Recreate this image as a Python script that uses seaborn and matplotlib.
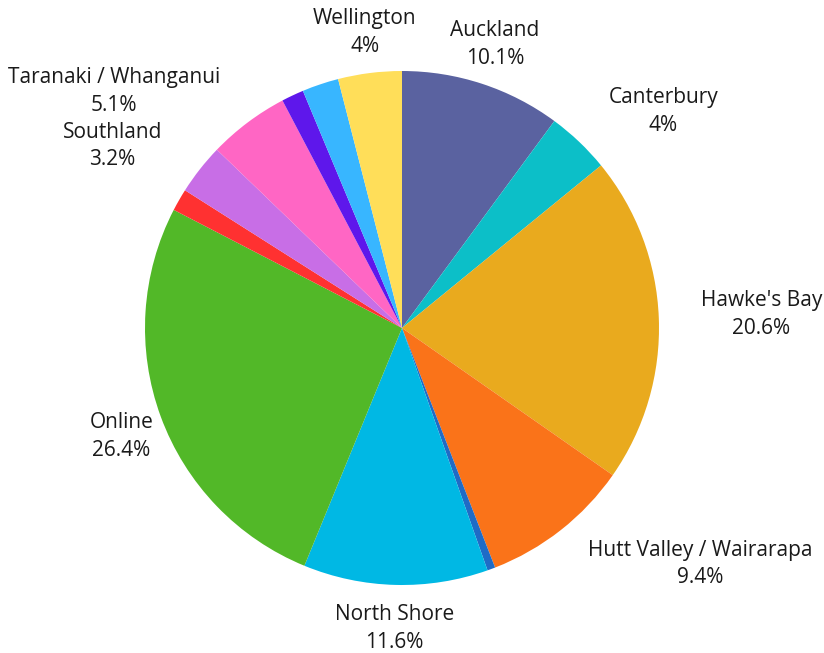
import numpy as np
import matplotlib
matplotlib.use('Agg')
import matplotlib.pyplot as plt
import seaborn as sns

# slices clockwise from 12 o'clock ('' = slice shown without a label)
regions = ['Auckland', 'Canterbury', "Hawke's Bay", 'Hutt Valley / Wairarapa', '',
           'North Shore', 'Online', '', 'Southland', 'Taranaki / Whanganui', '', '',
           'Wellington']
shares = [10.1, 4, 20.6, 9.4, 0.5, 11.6, 26.4, 1.4, 3.2, 5.1, 1.4, 2.3, 4]
colors = ['#5A62A0', '#0CBFC8', '#E9AA1E', '#FA7319', '#1F6BC6', '#00B8E4', '#52B828',
          '#FF3131', '#C86EE6', '#FF66C4', '#5E17EB', '#38B6FF', '#FFDE59']

# label layout: (angle nudge in degrees, distance in radii)
LABEL_LAYOUT = {'Auckland': (0, 1.16), 'Canterbury': (6.8, 1.32), "Hawke's Bay": (0, 1.40),
                'Hutt Valley / Wairarapa': (-13.5, 1.48), 'North Shore': (0, 1.17),
                'Online': (-1, 1.17), 'Southland': (-6, 1.33),
                'Taranaki / Whanganui': (-13.7, 1.45), 'Wellington': (0, 1.16)}

sns.set_theme(style='white')
plt.rcParams['font.family'] = ['Open Sans', 'DejaVu Sans']

W, H, R = 824, 653, 257
CX, CY = 402, 328
fig = plt.figure(figsize=(W / 100, H / 100), dpi=100)
ax = fig.add_axes([0, 0, 1, 1])
ax.pie(shares, colors=colors, startangle=90, counterclock=False, radius=1,
       wedgeprops={'linewidth': 0})
ax.set_xlim(-CX / R, (W - CX) / R)
ax.set_ylim(-(H - CY) / R, CY / R)
ax.set_aspect('equal')
ax.axis('off')

total = sum(shares)
start = 0
for name, val in zip(regions, shares):
    mid = (start + val / 2) / total * 360
    start += val
    if not name:
        continue
    nudge, dist = LABEL_LAYOUT[name]
    a = np.deg2rad(mid + nudge)
    ax.text(dist * np.sin(a), dist * np.cos(a), f'{name}\n{val:g}%',
            ha='center', va='center', fontsize=15, color='#1a1a1a', linespacing=1.42)

fig.savefig('out.png', dpi=100)
